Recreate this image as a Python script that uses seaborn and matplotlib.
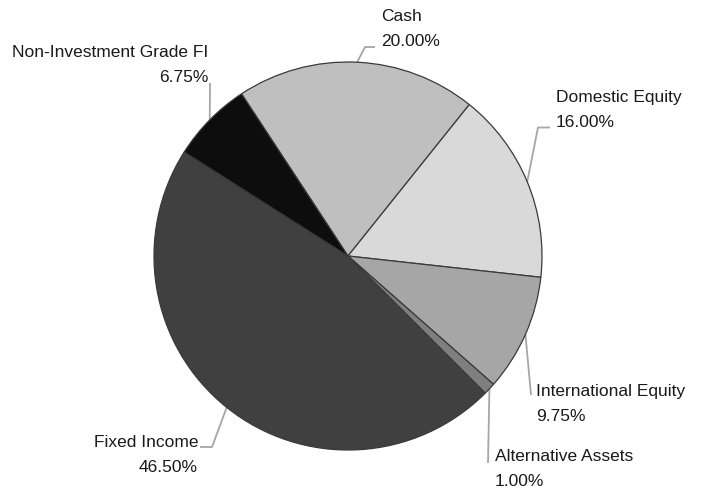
import numpy as np
import seaborn as sb
import matplotlib
matplotlib.use("Agg")
import matplotlib.pyplot as plt

### Data.
labels = ['Cash', 'Domestic Equity', 'International Equity',
          'Alternative Assets', 'Fixed Income', 'Non-Investment Grade FI']
weights = [20.00, 16.00, 9.75, 1.00, 46.50, 6.75]
shades = ['#bfbfbf', '#d9d9d9', '#a6a6a6', '#7f7f7f', '#404040', '#0d0d0d']

### Label layout (pixel coords, y down): text anchor, alignment, leader bend points.
text_xy = [(381, 21), (556, 102), (536, 396), (495, 461), (198, 447), (208, 57)]
text_ha = ['left', 'left', 'left', 'left', 'right', 'right']
leader_pts = [[(365, 47), (375, 47)],
              [(538, 127.5), (550, 127.5)],
              [(531, 395)],
              [(488, 463)],
              [(212, 447), (200, 447)],
              [(210, 83)]]

W, H = 704, 494
cx, cy, rad = 348, 256, 194

sb.set_theme(style="white")
plt.rcParams['font.family'] = ['Liberation Sans', 'DejaVu Sans']

fig = plt.figure(figsize=(W / 100, H / 100), dpi=100)
ax = fig.add_axes([0, 0, 1, 1])

### Pie.
wedges, _ = ax.pie(weights, colors=sb.color_palette(shades), startangle=123.3,
                   counterclock=False, center=(cx, H - cy), radius=rad,
                   wedgeprops=dict(edgecolor='#3a3a3a', linewidth=0.9))
ax.set_xlim(0, W)
ax.set_ylim(0, H)
ax.set_aspect('equal')
ax.axis('off')

### Labels and leader lines.
for w, lab, val, (tx, ty), ha, pts in zip(wedges, labels, weights, text_xy, text_ha, leader_pts):
    mid = np.deg2rad((w.theta1 + w.theta2) / 2)
    ex, ey = cx + rad * np.cos(mid), H - cy + rad * np.sin(mid)
    xs = [ex] + [p[0] for p in pts]
    ys = [ey] + [H - p[1] for p in pts]
    ax.plot(xs, ys, color='#a6a6a6', lw=1.3, solid_capstyle='butt', zorder=0)
    ax.text(tx, H - ty, lab, ha=ha, va='baseline', fontsize=12.5, color='#1a1a1a')
    ax.text(tx, H - ty - 25, '%.2f%%' % val, ha=ha, va='baseline',
            fontsize=12.5, color='#1a1a1a')

plt.savefig('out.png', dpi=100)
